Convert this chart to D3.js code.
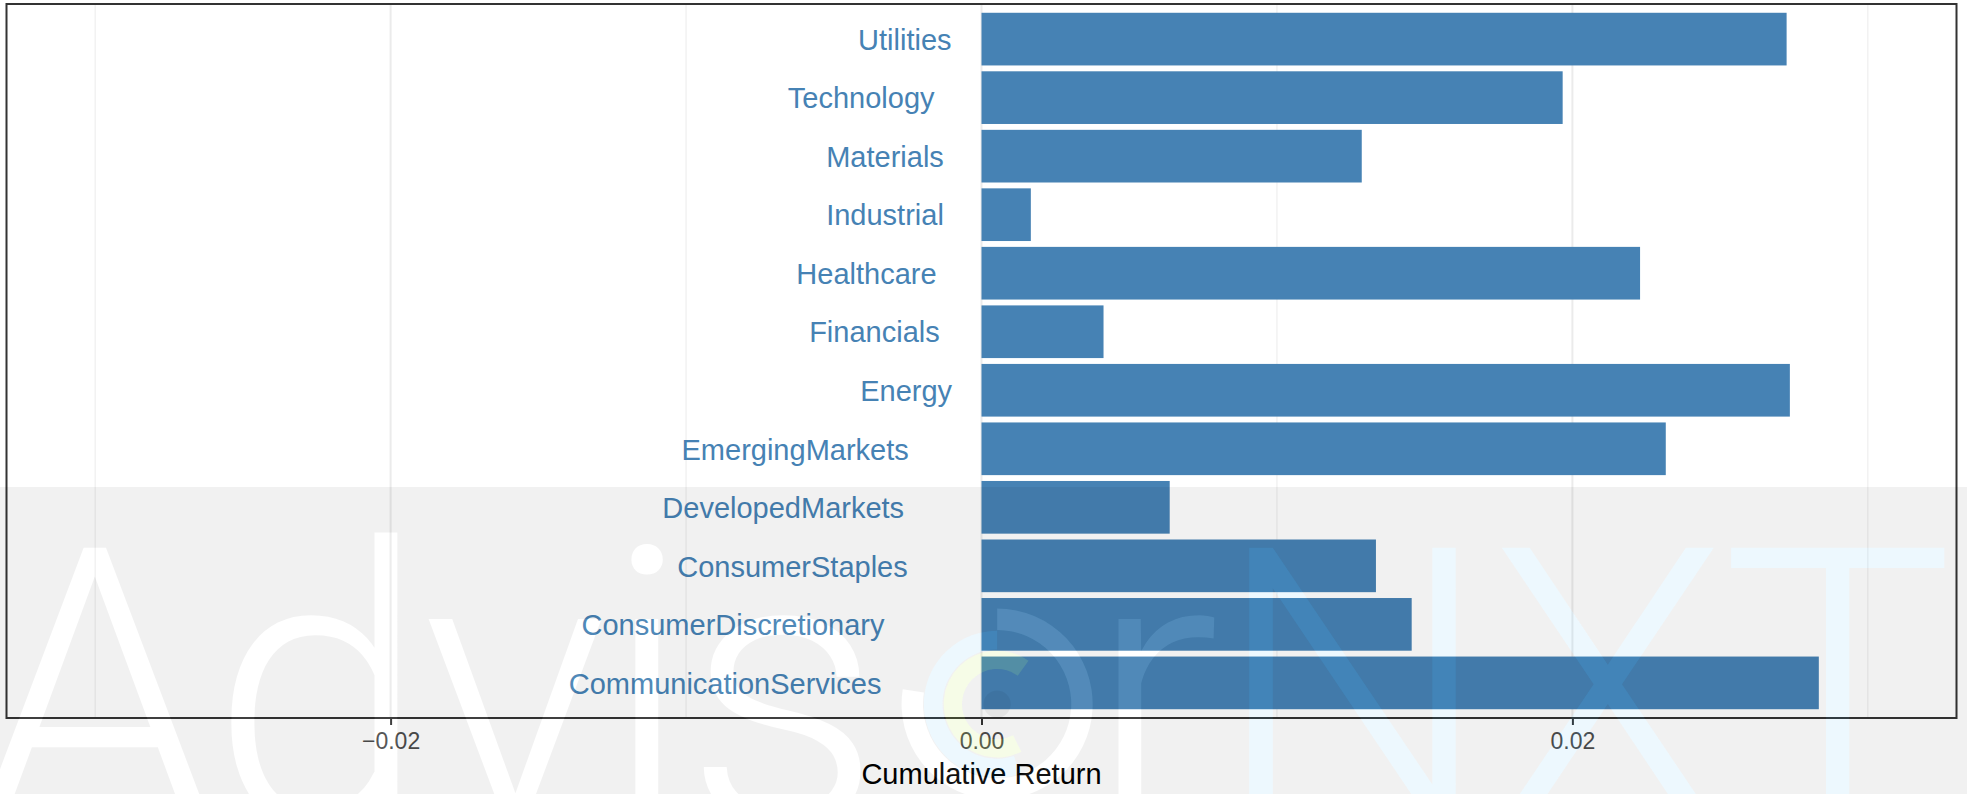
<!DOCTYPE html>
<html>
<head>
<meta charset="utf-8">
<script src="https://cdn.jsdelivr.net/npm/d3@7"></script>
<style>
  body { margin: 0; background: #fff; }
  svg { display: block; }
</style>
</head>
<body>
<div id="okvir"></div>
<script>
// sectors in factor order (first one is drawn at the bottom)
const sectors = ["CommunicationServices", "ConsumerDiscretionary", "ConsumerStaples", "DevelopedMarkets",
                 "EmergingMarkets", "Energy", "Financials", "Healthcare", "Industrial", "Materials",
                 "Technology", "Utilities"];
// cumulative return per sector
const returns = [0.02834, 0.01456, 0.01335, 0.00637, 0.02316, 0.02736, 0.00413, 0.02229,
                 0.00167, 0.01287, 0.01967, 0.02725];
const xTicks = [-0.02, 0.00, 0.02];
const xMinorTicks = [-0.03, -0.01, 0.01, 0.03];
const xLimits = [-0.033, 0.033];
const xTitle = "Cumulative Return";
const watermark = "AdvisorNXT";

function crtajBarPlot() {
    var data = sectors.map((s, i) => ({ sector: s, value: returns[i] }));

    var width = 1967;
    var height = 794;
    var margin = { top: 4, right: 10.5, bottom: 76, left: 6.5 };
    var labelFont = "'Liberation Sans', Arial, Helvetica, sans-serif";

    var svg = d3.select("#okvir")
        .append("svg")
        .attr("width", width)
        .attr("height", height);

    // scales
    var x = d3.scaleLinear()
        .domain(xLimits)
        .range([margin.left, width - margin.right]);

    var y = d3.scaleBand()
        .domain(sectors.slice().reverse())
        .range([margin.top, height - margin.bottom])
        .paddingInner(0.1)
        .paddingOuter(0.15);

    // vertical grid lines (minor thin, major thicker)
    var grid = svg.append("g");
    grid.selectAll(".minor")
        .data(xMinorTicks)
        .enter()
        .append("line")
        .attr("x1", d => x(d)).attr("x2", d => x(d))
        .attr("y1", margin.top).attr("y2", height - margin.bottom)
        .attr("stroke", "#ebebeb")
        .attr("stroke-width", 1);
    grid.selectAll(".major")
        .data(xTicks)
        .enter()
        .append("line")
        .attr("x1", d => x(d)).attr("x2", d => x(d))
        .attr("y1", margin.top).attr("y2", height - margin.bottom)
        .attr("stroke", "#ebebeb")
        .attr("stroke-width", 2);

    // bars
    svg.append("g")
        .selectAll("rect")
        .data(data)
        .enter()
        .append("rect")
        .attr("x", d => x(Math.min(0, d.value)))
        .attr("y", d => y(d.sector))
        .attr("width", d => Math.abs(x(d.value) - x(0)))
        .attr("height", y.bandwidth())
        .attr("fill", "steelblue");

    // sector labels left of zero (hjust ~1.32)
    var labels = svg.append("g")
        .selectAll("text")
        .data(data)
        .enter()
        .append("text")
        .attr("y", d => y(d.sector) + y.bandwidth() / 2)
        .attr("dy", "0.37em")
        .style("font-family", labelFont)
        .style("font-size", "29px")
        .attr("fill", "steelblue")
        .text(d => d.sector);
    labels.attr("x", function () { return x(0) - 1.32 * this.getComputedTextLength(); });

    // x axis
    var xAxis = svg.append("g")
        .attr("transform", "translate(0," + (height - margin.bottom) + ")")
        .call(d3.axisBottom(x)
            .tickValues(xTicks)
            .tickFormat(d3.format(".2f"))
            .tickSize(7)
            .tickSizeOuter(0)
            .tickPadding(8));
    xAxis.select(".domain").remove();
    xAxis.selectAll(".tick line")
        .attr("stroke", "#333333")
        .attr("stroke-width", 2);
    xAxis.selectAll("text")
        .attr("fill", "#4d4d4d")
        .style("font-family", labelFont)
        .style("font-size", "23px");

    // panel border
    svg.append("rect")
        .attr("x", margin.left)
        .attr("y", margin.top)
        .attr("width", width - margin.right - margin.left)
        .attr("height", height - margin.bottom - margin.top)
        .attr("fill", "none")
        .attr("stroke", "#333333")
        .attr("stroke-width", 2);

    // x axis title
    svg.append("text")
        .attr("x", (margin.left + width - margin.right) / 2)
        .attr("y", 784.3)
        .attr("text-anchor", "middle")
        .style("font-family", labelFont)
        .style("font-size", "29px")
        .attr("fill", "#000")
        .text(xTitle);

    // ---- watermark overlay ----
    var wmSize = 390;
    var wmBase = 825;
    var wmX = -27;
    var wmLen = 1981;
    var wmFont = "Roboto, 'Open Sans', sans-serif";
    var letterKind = ch => ("NXT".includes(ch) ? "nxt" : ch === "o" ? "logo" : "white");

    function addWord(parent, fillFn, opacityFn) {
        var t = parent.append("text")
            .attr("x", wmX)
            .attr("y", wmBase)
            .attr("textLength", wmLen)
            .attr("lengthAdjust", "spacing")
            .style("font-family", wmFont)
            .style("font-weight", 300)
            .style("font-size", wmSize + "px");
        t.selectAll("tspan")
            .data(watermark.split(""))
            .enter()
            .append("tspan")
            .attr("fill", d => fillFn(letterKind(d)))
            .attr("fill-opacity", d => opacityFn(letterKind(d)))
            .text(d => d);
        return t;
    }

    var wm = svg.append("g").attr("class", "watermark");
    var defs = svg.append("defs");

    // letters first (to measure the "o" used as a logo)
    var word = addWord(wm,
        k => (k === "nxt" ? "rgb(20,170,240)" : k === "logo" ? "none" : "#ffffff"),
        k => (k === "nxt" ? 0.08 : 0.06));
    var oBox = word.node().getExtentOfChar(watermark.indexOf("o"));
    var cx = oBox.x + oBox.width / 2 + 0.03 * wmSize;
    var cy = wmBase - 0.31 * wmSize;

    var rings = [
        { r0: 0.19, r1: 0.245, a0: 0, a1: 1.55 * Math.PI, fill: "#ffffff", op: 0.07 },
        { r0: 0.14, r1: 0.188, a0: 0.9 * Math.PI, a1: 2 * Math.PI, fill: "rgb(20,170,240)", op: 0.08 },
        { r0: 0.09, r1: 0.137, a0: 0.85 * Math.PI, a1: 2.2 * Math.PI, fill: "rgb(180,230,60)", op: 0.12 }
    ];
    var arc = d3.arc()
        .innerRadius(d => d.r0 * wmSize)
        .outerRadius(d => d.r1 * wmSize)
        .startAngle(d => d.a0)
        .endAngle(d => d.a1);

    // mask: gray veil removed where letters / rings are
    var mask = defs.append("mask")
        .attr("id", "wmMask")
        .attr("maskUnits", "userSpaceOnUse")
        .attr("x", 0).attr("y", 0)
        .attr("width", width).attr("height", height);
    mask.append("rect")
        .attr("width", width).attr("height", height)
        .attr("fill", "#fff");
    addWord(mask, k => (k === "logo" ? "none" : "#000"), k => 1);
    mask.append("g")
        .attr("transform", "translate(" + cx + "," + cy + ")")
        .selectAll("path")
        .data(rings)
        .enter()
        .append("path")
        .attr("d", arc)
        .attr("fill", "#000");

    // gray veil
    wm.insert("rect", ":first-child")
        .attr("x", 0)
        .attr("y", 487)
        .attr("width", width)
        .attr("height", height - 487)
        .attr("fill", "#000")
        .attr("fill-opacity", 0.055)
        .attr("mask", "url(#wmMask)");

    // logo rings
    var logo = wm.append("g")
        .attr("transform", "translate(" + cx + "," + cy + ")");
    logo.selectAll("path")
        .data(rings)
        .enter()
        .append("path")
        .attr("d", arc)
        .attr("fill", d => d.fill)
        .attr("fill-opacity", d => d.op);
    logo.append("circle")
        .attr("r", 0.035 * wmSize)
        .attr("fill", "#000")
        .attr("fill-opacity", 0.05);
}
crtajBarPlot();
</script>
</body>
</html>
